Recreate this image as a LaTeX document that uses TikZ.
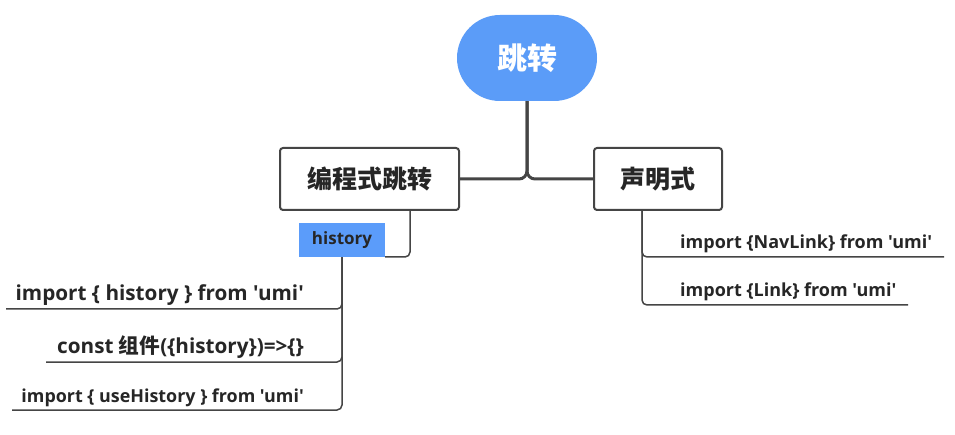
\documentclass[tikz,border=0pt]{standalone}
\usepackage{fontspec}
\setmainfont{Open Sans}[Ligatures=TeXOff]
\newfontfamily\cjk{Noto Sans CJK SC}
\definecolor{rootblue}{HTML}{5B9CF8}
\definecolor{subblue}{HTML}{5B9CFA}
\definecolor{linegray}{HTML}{454545}
\definecolor{txt}{HTML}{262626}
\begin{document}
\begin{tikzpicture}[x=1pt,y=-1pt,
  rootnode/.style={fill=rootblue,rounded corners=43pt,minimum width=140pt,minimum height=86pt,inner sep=0pt,text=white,font=\cjk\bfseries\fontsize{30}{32}\selectfont},
  mainbox/.style={draw=linegray,line width=2pt,rounded corners=3pt,fill=white,minimum height=62pt,inner sep=0pt,text=txt,font=\cjk\bfseries\fontsize{25}{28}\selectfont},
  subbox/.style={fill=subblue,minimum width=86pt,minimum height=34pt,inner sep=0pt,text=txt,font=\bfseries\fontsize{17}{20}\selectfont},
  leaf/.style={inner sep=0pt,text=txt,font=\bfseries\fontsize{#1}{22}\selectfont},
  trunk/.style={draw=linegray,line width=3pt,rounded corners=8pt},
  twig/.style={draw=linegray,line width=1.5pt,rounded corners=5pt}]
\useasboundingbox[fill=white] (0,0) rectangle (955,435);
\node[rootnode] (root) at (527,58) {跳转};
\node[mainbox,minimum width=179pt] (prog) at (369.5,179) {编程式跳转};
\node[mainbox,minimum width=128pt] (decl) at (658,179) {声明式};
\node[subbox] (hist) at (342,240) {history};
\node[leaf=20.7,anchor=base east] (l1) at (304,301) {import \{ history \} from 'umi'};
\node[leaf=20.7,anchor=base east] (l2) at (304,353) {const {\cjk 组件}(\{history\})=>\{\}};
\node[leaf=17.9,anchor=base east] (l3) at (304,402) {import \{ useHistory \} from 'umi'};
\node[leaf=18,anchor=base west] (r1) at (680,249) {import \{NavLink\} from 'umi'};
\node[leaf=18,anchor=base west] (r2) at (680,297) {import \{Link\} from 'umi'};
\coordinate (e1) at (6,309);
\coordinate (e2) at (46,362);
\coordinate (e3) at (12,410);
\coordinate (f1) at (944,257);
\coordinate (f2) at (908,305);
\draw[trunk] (root.south) -- (root.south |- prog.east) -- (prog.east);
\draw[trunk] (root.south) -- (root.south |- decl.west) -- (decl.west);
\draw[twig] (prog.south -| 410,0) -- (410,257) -- (hist.east |- 0,257);
\draw[twig] (hist.south) |- (e1);
\draw[twig] (hist.south) |- (e2);
\draw[twig] (hist.south) |- (e3);
\draw[twig] (decl.south -| 642,0) |- (f1);
\draw[twig] (decl.south -| 642,0) |- (f2);
\end{tikzpicture}
\end{document}
